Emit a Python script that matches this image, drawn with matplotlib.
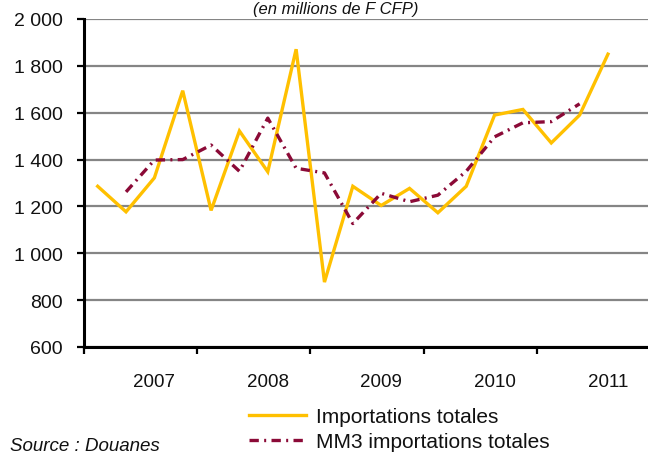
import matplotlib
matplotlib.use("Agg")
import matplotlib.pyplot as plt
import numpy as np
from matplotlib.ticker import FuncFormatter, FixedLocator

# Data (quarterly, 2007 Q1 .. 2011 Q3), in millions de F CFP
importations = [1286, 1177, 1322, 1694, 1183, 1522, 1348, 1871, 877, 1286,
                1204, 1277, 1173, 1286, 1590, 1614, 1471, 1590, 1850]
mm3 = [np.nan, 1262, 1398, 1400, 1462, 1350, 1577, 1363, 1343, 1127,
       1256, 1220, 1248, 1350, 1497, 1557, 1562, 1638, np.nan]
years = ["2007", "2008", "2009", "2010", "2011"]
series_labels = ["Importations totales", "MM3 importations totales"]
title_text = "(en millions de F CFP)"
source_text = "Source : Douanes"

plt.rcParams['font.family'] = ['Liberation Sans', 'DejaVu Sans']

W, H = 648, 456
fig = plt.figure(figsize=(W / 100, H / 100), dpi=100)
left, right, top, bottom = 83.5, 650.5, 20, 348
ax = fig.add_axes([left / W, 1 - bottom / H, (right - left) / W, (bottom - top) / H])

x = np.arange(len(importations))
l1, = ax.plot(x, importations, color="#FFC000", lw=2.4, solid_joinstyle="miter",
              zorder=3)
l2, = ax.plot(x, mm3, color="#8B0A37", lw=2.4, linestyle=(0, (2.8, 1.6, 0.6, 1.6)),
              zorder=4)

ax.set_xlim(-0.5, 19.5)
ax.set_ylim(600, 2000)
ax.yaxis.set_major_locator(FixedLocator(np.arange(600, 2001, 200)))
ax.yaxis.set_major_formatter(FuncFormatter(lambda v, p: f"{int(v):,}".replace(",", " ")))
ax.grid(axis="y", color="#858585", lw=1.6, zorder=1)
ax.set_axisbelow(True)

# year boundaries as major ticks, year labels as minor ticks
ax.xaxis.set_major_locator(FixedLocator([-0.5, 3.5, 7.5, 11.5, 15.5, 19.5]))
ax.xaxis.set_major_formatter(FuncFormatter(lambda v, p: ""))
ax.xaxis.set_minor_locator(FixedLocator([2, 6, 10, 14, 18]))
ax.set_xticklabels(years, minor=True)
ax.tick_params(axis="x", which="major", direction="out", length=5, width=1.6,
               color="black")
ax.tick_params(axis="x", which="minor", length=0, pad=19, labelsize=13.5,
               labelcolor="#111111")
ax.tick_params(axis="y", direction="out", length=5, width=1.6, pad=10,
               labelsize=14, labelcolor="#111111")

for s in ["top", "right"]:
    ax.spines[s].set_visible(False)
for s in ["left", "bottom"]:
    ax.spines[s].set_linewidth(2.2)
    ax.spines[s].set_color("black")
    ax.spines[s].set_zorder(5)

fig.text(336 / W, 1 - 14 / H, title_text, ha="center", va="baseline",
         fontsize=12, style="italic", color="#111111")
fig.text(10 / W, 1 - 451 / H, source_text, ha="left", va="baseline",
         fontsize=13.5, style="italic", color="#111111")

leg = fig.legend([l1, l2], series_labels, loc="upper left",
                 bbox_to_anchor=(249 / W, 1 - 408 / H), frameon=False,
                 fontsize=15, handlelength=2.75, handletextpad=0.45,
                 labelspacing=0.3, borderaxespad=0, borderpad=0)
for t in leg.get_texts():
    t.set_color("#111111")

fig.savefig("out.png", dpi=100)
